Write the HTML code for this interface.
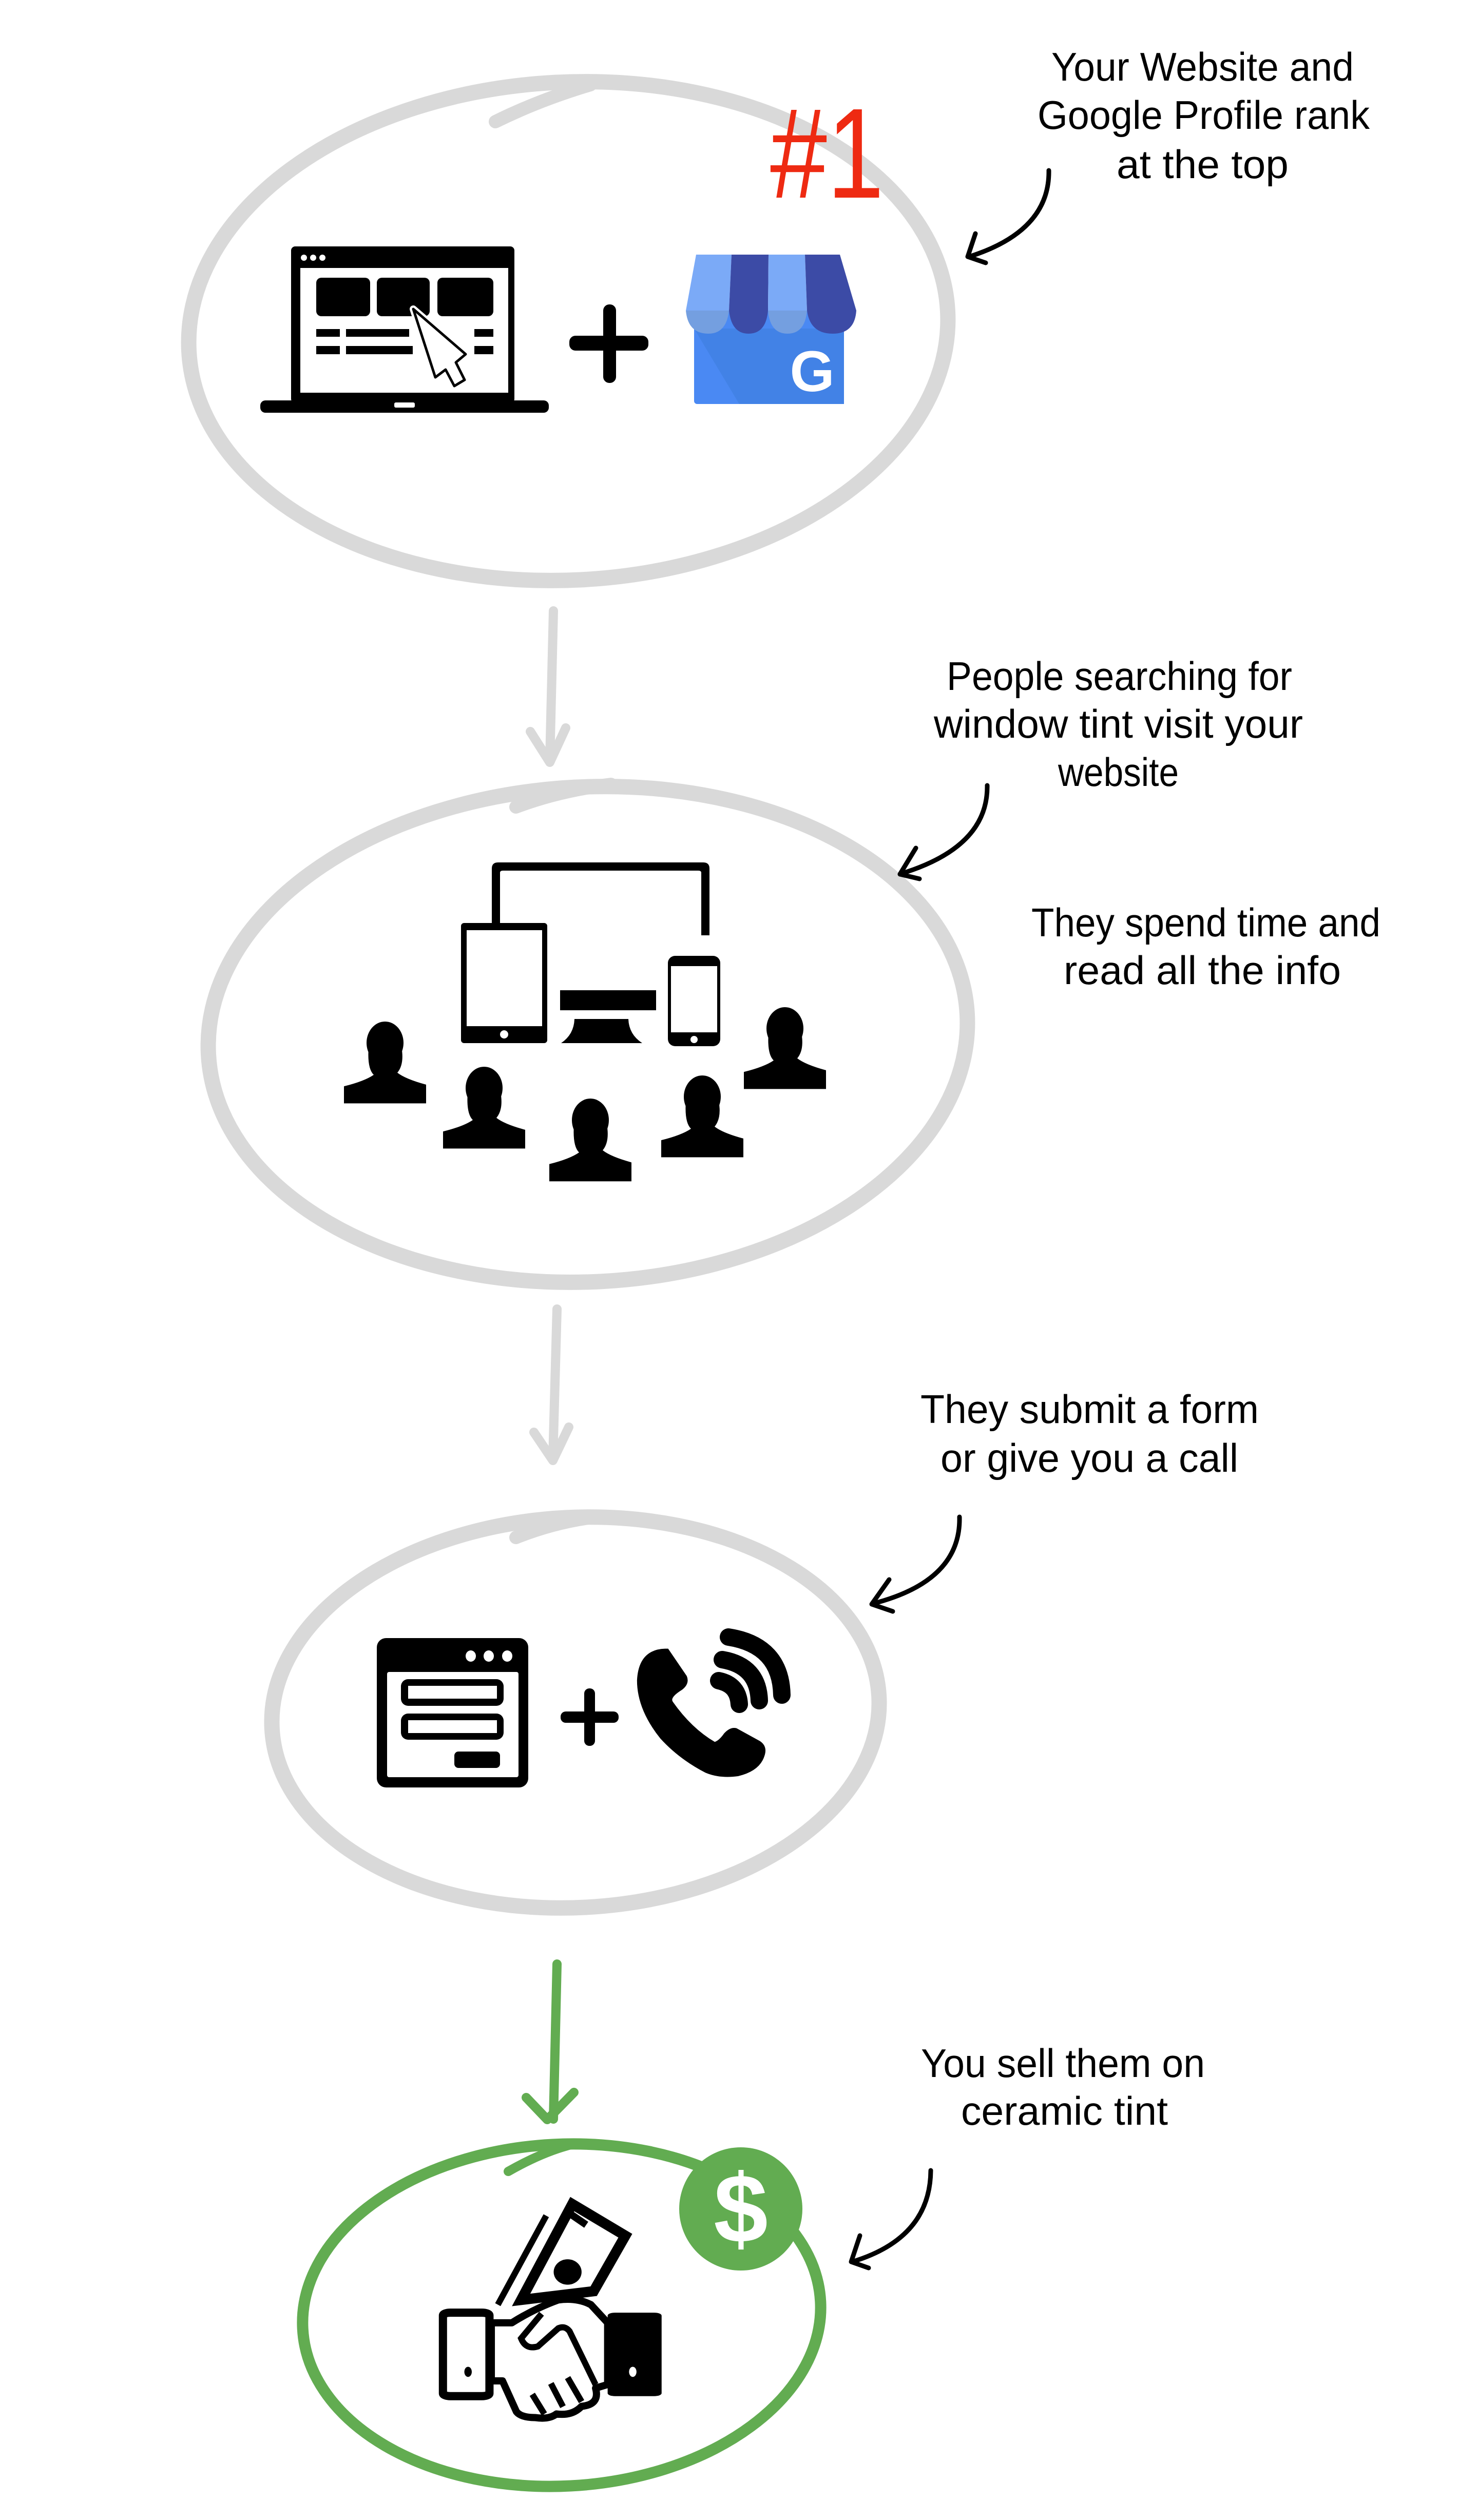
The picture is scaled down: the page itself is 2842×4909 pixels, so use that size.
<!DOCTYPE html>
<html><head><meta charset="utf-8"><style>
html,body{margin:0;padding:0;background:#fff;}
svg{display:block;}
.t{font-family:"Liberation Sans Narrow","Liberation Sans",sans-serif;font-size:78px;fill:#000;}
</style></head><body>
<svg width="2842" height="4909" viewBox="0 0 2842 4909" xmlns="http://www.w3.org/2000/svg">
<rect width="2842" height="4909" fill="#fff"/>

<!-- ===== Circle 1 ===== -->
<g fill="none" stroke="#d9d9d9" stroke-linecap="round">
<path d="M1150,205 Q1080,200 1000,225 Q860,300 760,380 Q560,560 420,800 Q360,950 380,1150" stroke-width="0"/>
<ellipse cx="1107" cy="645" rx="740" ry="485" stroke-width="30" transform="rotate(-3 1107 645)"/>
<path d="M965,237 Q1050,195 1150,165" stroke-width="26"/>
<!-- arrow 1 -->
<path d="M1078,1190 L1071,1480" stroke-width="18"/>
<path d="M1033,1425 L1071,1485 L1102,1418" stroke-width="18" stroke-linejoin="round"/>
<!-- circle 2 -->
<ellipse cx="1145" cy="2015" rx="740" ry="482" stroke-width="30" transform="rotate(-3 1145 2015)"/>
<path d="M1005,1572 Q1090,1540 1190,1528" stroke-width="26"/>
<!-- arrow 2 -->
<path d="M1085,2550 L1077,2840" stroke-width="18"/>
<path d="M1040,2790 L1077,2845 L1108,2780" stroke-width="18" stroke-linejoin="round"/>
<!-- circle 3 -->
<ellipse cx="1121" cy="3336" rx="592" ry="380" stroke-width="30" transform="rotate(-3 1121 3336)"/>
<path d="M1005,2995 Q1080,2965 1160,2955" stroke-width="26"/>
</g>

<!-- green -->
<g fill="none" stroke="#62ac51" stroke-linecap="round">
<path d="M1085,3826 L1078,4128" stroke-width="18"/>
<path d="M1025,4086 L1066,4129 L1118,4076" stroke-width="18" stroke-linejoin="round"/>
<ellipse cx="1094" cy="4510" rx="505" ry="333" stroke-width="22" transform="rotate(-3 1094 4510)"/>
<path d="M990,4230 Q1060,4190 1120,4176" stroke-width="18"/>
</g>
<circle cx="1443" cy="4303" r="120" fill="#62ac51"/>
<text x="1443" y="4368" text-anchor="middle" font-family="Liberation Sans, sans-serif" font-weight="bold" font-size="190" fill="#fff">$</text>

<!-- ===== Laptop ===== -->
<rect x="567" y="480" width="435" height="305" rx="8" fill="#000"/>
<rect x="585" y="522" width="405" height="243" fill="#fff"/>
<circle cx="592" cy="502" r="6" fill="#fff"/><circle cx="610" cy="502" r="6" fill="#fff"/><circle cx="628" cy="502" r="6" fill="#fff"/>
<rect x="507" y="780" width="562" height="24" rx="10" fill="#000"/>
<rect x="768" y="784" width="40" height="10" rx="3" fill="#fff"/>
<rect x="616" y="541" width="105" height="75" rx="10" fill="#000"/>
<rect x="734" y="541" width="103" height="75" rx="10" fill="#000"/>
<rect x="852" y="541" width="109" height="75" rx="10" fill="#000"/>
<rect x="616" y="641" width="46" height="15" fill="#000"/><rect x="674" y="641" width="123" height="15" fill="#000"/><rect x="924" y="641" width="37" height="15" fill="#000"/>
<rect x="616" y="674" width="46" height="16" fill="#000"/><rect x="674" y="674" width="130" height="16" fill="#000"/><rect x="924" y="674" width="37" height="16" fill="#000"/>
<path d="M805,602 L907,690 L888,706 L905,740 L885,752 L868,720 L848,735 Z" fill="#000" stroke="#fff" stroke-width="14" stroke-linejoin="round"/>
<path d="M805,602 L907,690 L888,706 L905,740 L885,752 L868,720 L848,735 Z" fill="#fff" stroke="#000" stroke-width="5" stroke-linejoin="round"/>

<!-- plus 1 -->
<rect x="1175" y="593" width="25" height="153" rx="12" fill="#000"/>
<rect x="1109" y="654" width="154" height="29" rx="12" fill="#000"/>

<!-- ===== GMB ===== -->
<rect x="1352" y="605" width="292" height="182" rx="6" fill="#4a89f3"/>
<path d="M1352,640 L1440,787 L1644,787 L1644,640 Z" fill="#4282e6"/>
<path d="M1356,496 L1425,496 L1420,605 L1336,605 Z" fill="#7baaf7"/>
<path d="M1425,496 L1497,496 L1496,605 L1420,605 Z" fill="#3c4ba6"/>
<path d="M1497,496 L1568,496 L1572,605 L1496,605 Z" fill="#7baaf7"/>
<path d="M1568,496 L1636,496 L1668,605 L1572,605 Z" fill="#3c4ba6"/>
<path d="M1336,605 L1420,605 Q1415,650 1380,650 Q1340,650 1336,605 Z" fill="#749fe0"/>
<path d="M1420,605 L1496,605 Q1492,650 1458,650 Q1425,650 1420,605 Z" fill="#3c4ba6"/>
<path d="M1496,605 L1572,605 Q1568,650 1534,650 Q1500,650 1496,605 Z" fill="#749fe0"/>
<path d="M1572,605 L1668,605 Q1665,650 1622,650 Q1578,650 1572,605 Z" fill="#3c4ba6"/>
<text x="1582" y="762" text-anchor="middle" font-family="Liberation Sans, sans-serif" font-weight="bold" font-size="112" fill="#fff">G</text>

<!-- #1 -->
<text x="1500" y="385" font-family="Liberation Sans Narrow, Liberation Sans, sans-serif" font-size="250" fill="#ee2a12" textLength="222" lengthAdjust="spacingAndGlyphs">#1</text>

<!-- ===== devices ===== -->
<path d="M958,1822 L958,1692 Q958,1680 970,1680 L1370,1680 Q1382,1680 1382,1692 L1382,1822 L1366,1822 L1366,1700 Q1366,1696 1360,1696 L980,1696 Q974,1696 974,1700 L974,1822 Z" fill="#000"/>
<rect x="898" y="1798" width="168" height="234" rx="6" fill="#000"/>
<rect x="909" y="1812" width="147" height="187" fill="#fff"/>
<ellipse cx="982" cy="2015" rx="8" ry="8" fill="#fff"/>
<rect x="1091" y="1929" width="187" height="39" fill="#000"/>
<path d="M1119,1985 L1224,1985 Q1225,2015 1251,2032 L1093,2032 Q1118,2015 1119,1985 Z" fill="#000"/>
<rect x="1301" y="1862" width="102" height="176" rx="14" fill="#000"/>
<rect x="1307" y="1882" width="90" height="129" fill="#fff"/>
<circle cx="1352" cy="2025" r="7" fill="#fff"/>

<defs>
<g id="p">
<ellipse cx="80" cy="50" rx="36" ry="50" fill="#000"/>
<path d="M48,60 Q45,110 58,125 Q40,140 0,152 L0,192 L160,192 L160,148 Q120,135 104,120 Q118,100 112,60 Z" fill="#000"/>
</g>
</defs>
<use href="#p" transform="translate(670,1990) scale(1,0.83)"/>
<use href="#p" transform="translate(863,2078) scale(1,0.83)"/>
<use href="#p" transform="translate(1070,2140) scale(1,0.84)"/>
<use href="#p" transform="translate(1288,2095) scale(1,0.83)"/>
<use href="#p" transform="translate(1449,1962) scale(1,0.83)"/>

<!-- ===== form ===== -->
<rect x="734" y="3191" width="295" height="291" rx="18" fill="#000"/>
<rect x="754" y="3257" width="256" height="205" rx="4" fill="#fff"/>
<ellipse cx="917" cy="3226" rx="10" ry="11" fill="#fff"/><ellipse cx="952" cy="3226" rx="10" ry="11" fill="#fff"/><ellipse cx="988" cy="3226" rx="10" ry="11" fill="#fff"/>
<rect x="781" y="3271" width="200" height="52" rx="14" fill="#000"/><rect x="795" y="3284" width="173" height="25" fill="#fff"/>
<rect x="781" y="3338" width="200" height="51" rx="14" fill="#000"/><rect x="795" y="3351" width="173" height="25" fill="#fff"/>
<rect x="885" y="3412" width="89" height="32" rx="8" fill="#000"/>
<!-- plus 2 -->
<rect x="1138" y="3289" width="21" height="112" rx="10" fill="#000"/>
<rect x="1092" y="3334" width="113" height="22" rx="10" fill="#000"/>
<!-- phone -->
<path transform="translate(650,3100) scale(0.606,0.3333)" d="M1075,335 L1135,495 Q1145,540 1120,575 Q1080,620 1090,645 Q1150,800 1225,880 Q1240,870 1255,830 Q1275,790 1295,800 L1370,875 Q1395,905 1385,960 Q1370,1050 1300,1080 Q1240,1095 1195,1060 Q1110,980 1050,860 Q975,690 975,520 Q980,340 1065,335 Z" fill="#000"/>
<g fill="none" stroke="#000" stroke-width="34" stroke-linecap="round">
<path d="M1400,3274 Q1438,3282 1440,3320"/>
<path d="M1407,3233 Q1477,3245 1479,3313"/>
<path d="M1419,3189 Q1521,3205 1523,3302"/>
</g>

<!-- ===== handshake ===== -->
<g transform="translate(0,3800) scale(1.8126,0.7072)">
<path d="M587,730 L535,975" stroke="#000" stroke-width="12" vector-effect="non-scaling-stroke" fill="none"/>
<path d="M615,698 L672,785 L638,938 L560,962 Z" fill="#fff" stroke="#000" stroke-width="20" vector-effect="non-scaling-stroke" stroke-linejoin="miter"/>
<path d="M610,720 L630,755" stroke="#000" stroke-width="14" vector-effect="non-scaling-stroke"/>
<ellipse cx="610" cy="885" rx="15" ry="35" fill="#000"/>
<rect x="476" y="997" width="50" height="230" rx="8" fill="#fff" stroke="#000" stroke-width="16" vector-effect="non-scaling-stroke"/>
<ellipse cx="503" cy="1160" rx="4" ry="14" fill="#000"/>
<path d="M528,1025 L550,1025 Q575,985 600,962 Q620,955 635,975 L653,1025 L653,1195 L640,1205 Q645,1250 625,1255 Q615,1282 598,1276 Q590,1292 575,1286 Q560,1286 555,1270 L540,1185 L528,1185 Z" fill="#fff" stroke="#000" stroke-width="14" vector-effect="non-scaling-stroke" stroke-linejoin="round"/>
<path d="M582,1000 L560,1068 Q565,1100 578,1090 L600,1040 Q607,1032 612,1048 L640,1195" fill="none" stroke="#000" stroke-width="12" vector-effect="non-scaling-stroke"/>
<path d="M572,1222 L585,1276 M592,1192 L605,1256 M610,1176 L625,1242" fill="none" stroke="#000" stroke-width="12" vector-effect="non-scaling-stroke"/>
<rect x="653" y="997" width="58" height="230" rx="8" fill="#000"/>
<ellipse cx="680" cy="1160" rx="4" ry="14" fill="#fff"/>
</g>

<!-- ===== callout arrows ===== -->
<g fill="none" stroke="#000" stroke-width="9" stroke-linecap="round" stroke-linejoin="round">
<path d="M2043,332 Q2045,450 1888,500"/>
<path d="M1900,455 L1885,500 L1920,512"/>
<path d="M1923,1530 Q1925,1650 1755,1702"/>
<path d="M1784,1652 L1753,1703 L1791,1712"/>
<path d="M1869,2955 Q1872,3080 1700,3124"/>
<path d="M1732,3077 L1698,3125 L1739,3139"/>
<path d="M1813,4228 Q1812,4360 1660,4406"/>
<path d="M1675,4355 L1658,4406 L1692,4418"/>
</g>

<!-- ===== texts ===== -->
<text class="t" x="2048" y="157" textLength="589" lengthAdjust="spacingAndGlyphs">Your Website and</text>
<text class="t" x="2021" y="251" textLength="647" lengthAdjust="spacingAndGlyphs">Google Profile rank</text>
<text class="t" x="2175" y="347" textLength="335" lengthAdjust="spacingAndGlyphs">at the top</text>

<text class="t" x="1844" y="1344" textLength="673" lengthAdjust="spacingAndGlyphs">People searching for</text>
<text class="t" x="1819" y="1437" textLength="719" lengthAdjust="spacingAndGlyphs">window tint visit your</text>
<text class="t" x="2061" y="1531" textLength="235" lengthAdjust="spacingAndGlyphs">website</text>

<text class="t" x="2009" y="1824" textLength="680" lengthAdjust="spacingAndGlyphs">They spend time and</text>
<text class="t" x="2072" y="1917" textLength="540" lengthAdjust="spacingAndGlyphs">read all the info</text>

<text class="t" x="1793" y="2772" textLength="659" lengthAdjust="spacingAndGlyphs">They submit a form</text>
<text class="t" x="1832" y="2867" textLength="580" lengthAdjust="spacingAndGlyphs">or give you a call</text>

<text class="t" x="1794" y="4046" textLength="553" lengthAdjust="spacingAndGlyphs">You sell them on</text>
<text class="t" x="1872" y="4139" textLength="403" lengthAdjust="spacingAndGlyphs">ceramic tint</text>
</svg>
</body></html>
